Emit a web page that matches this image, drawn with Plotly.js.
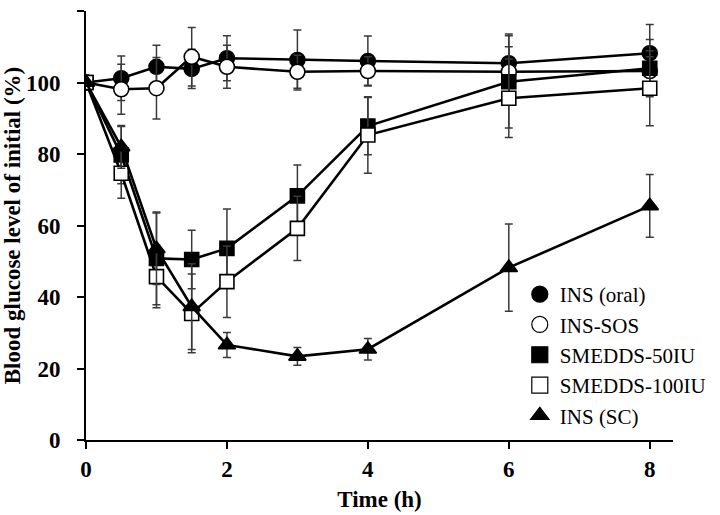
<!DOCTYPE html>
<html><head><meta charset="utf-8">
<script src="https://cdn.plot.ly/plotly-3.0.1.min.js"></script>
<style>html,body{margin:0;padding:0;background:#fff}#chart{width:720px;height:515px}</style>
</head><body><div id="chart"></div>
<script>
const time = [0, 0.5, 1, 1.5, 2, 3, 4, 6, 8];
const seriesNames = ["INS (oral)", "INS-SOS", "SMEDDS-50IU", "SMEDDS-100IU", "INS (SC)"];
const insOral = [100, 101.2, 104.4, 103.8, 106.8, 106.3, 106.0, 105.4, 108.2];
const insOralErr = [0, 6.2, 6.0, 5.5, 6.3, 8.4, 7.0, 8.2, 8.0];
const insSos = [100, 98.1, 98.4, 107.2, 104.4, 103.0, 103.2, 103.0, 103.2];
const insSosErr = [0, 7.0, 8.6, 8.2, 6.0, 4.6, 4.0, 7.0, 4.0];
const smedds50 = [100, 79.7, 50.8, 50.5, 53.6, 68.3, 87.8, 100.2, 104.0];
const smedds50Err = [0, 8.0, 13.0, 8.2, 11.0, 8.6, 8.0, 12.9, 8.0];
const smedds100 = [100, 74.6, 45.7, 35.4, 44.3, 59.2, 85.3, 95.6, 98.4];
const smedds100Err = [0, 7.0, 8.7, 11.0, 10.0, 9.0, 10.7, 11.0, 10.5];
const insSc = [100, 82.0, 53.5, 37.3, 26.6, 23.4, 25.4, 48.2, 65.5];
const insScErr = [0, 6.0, 10.0, 12.0, 3.5, 2.5, 3.0, 12.2, 8.8];
const xTicks = [0, 2, 4, 6, 8];
const yTicks = [0, 20, 40, 60, 80, 100, 120];

const values = [insOral, insSos, smedds50, smedds100, insSc];
const errs = [insOralErr, insSosErr, smedds50Err, smedds100Err, insScErr];
const symbols = ["circle", "circle", "square", "square", "triangle-up"];
const fills = ["#000", "#fff", "#000", "#fff", "#000"];
const sizes = [15, 15, 14, 14, 15];

const traces = [];
values.forEach((v, i) => {
  traces.push({
    x: time, y: v, type: "scatter", mode: "lines+markers", showlegend: false,
    line: {color: "#000", width: 2.6},
    marker: {symbol: symbols[i], size: sizes[i], color: fills[i], line: {color: "#000", width: 1.6}},
    error_y: {type: "data", array: errs[i], visible: true, color: "#3a3a3a", thickness: 1.5, width: 4}
  });
});
values.forEach((v, i) => {
  traces.push({
    x: [null], y: [null], yaxis: "y2", type: "scatter", mode: "markers", name: seriesNames[i],
    marker: {symbol: symbols[i], size: sizes[i] + 3, color: fills[i], line: {color: "#000", width: 1.2}}
  });
});

const serif = "Liberation Serif, Times New Roman, serif";
const layout = {
  width: 720, height: 515,
  margin: {l: 86, r: 47, t: 11, b: 75, autoexpand: false},
  paper_bgcolor: "#fff", plot_bgcolor: "#fff",
  font: {family: serif, color: "#000"},
  xaxis: {
    range: [0, 8.33], tickvals: xTicks, ticktext: xTicks.map(t => "<b>" + t + "</b>"),
    showgrid: false, zeroline: false, showline: true, linecolor: "#000", linewidth: 2,
    ticks: "outside", ticklen: 7, tickwidth: 2, tickcolor: "#000", automargin: true,
    tickfont: {size: 23, family: serif, color: "#000"},
    title: {text: "<b>Time (h)</b>", font: {size: 23, family: serif, color: "#000"}, standoff: 10}
  },
  yaxis: {
    range: [0, 120], tickvals: yTicks, showticklabels: false,
    showgrid: false, zeroline: false, showline: true, linecolor: "#000", linewidth: 2,
    ticks: "outside", ticklen: 7, tickwidth: 2, tickcolor: "#000"
  },
  yaxis2: {
    overlaying: "y", side: "left", range: [0, 120], tickvals: yTicks,
    ticktext: yTicks.map(t => "<b>" + t + "</b>"),
    showgrid: false, zeroline: false, showline: false, automargin: true,
    ticks: "outside", ticklen: 20, tickwidth: 1, tickcolor: "rgba(0,0,0,0)",
    tickfont: {size: 23, family: serif, color: "#000"},
    title: {text: "<b>Blood glucose level of initial (%)</b>", font: {size: 23, family: serif, color: "#000"}, standoff: 2}
  },
  legend: {
    x: 0.739, xanchor: "left", y: 0.387, yanchor: "top",
    bgcolor: "rgba(255,255,255,0)", borderwidth: 0,
    font: {size: 21, family: serif, color: "#000"},
    tracegroupgap: 0, itemsizing: "trace"
  },
  showlegend: true
};

Plotly.newPlot("chart", traces, layout, {displayModeBar: false, staticPlot: true});
</script>
</body></html>
